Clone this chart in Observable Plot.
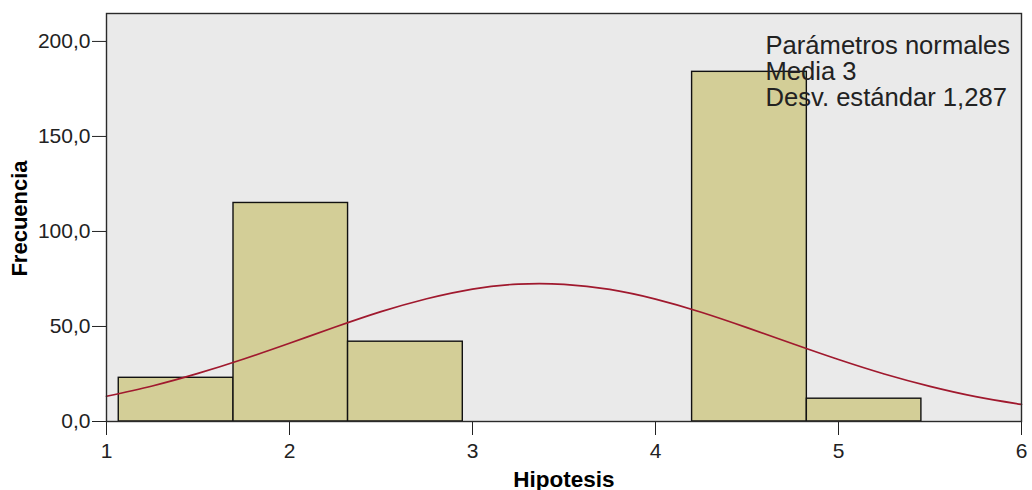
<!DOCTYPE html>
<html>
<head>
<meta charset="utf-8">
<script src="https://cdn.jsdelivr.net/npm/d3@7"></script>
<script src="https://cdn.jsdelivr.net/npm/@observablehq/plot@0.6"></script>
<style>
  html, body { margin: 0; padding: 0; background: #ffffff; }
  #chart { width: 1032px; height: 490px; }
</style>
</head>
<body>
<div id="chart"></div>
<script>
// Histogram bins (Hipotesis) and frequencies
const binStart = [1.067, 1.694, 2.320, 4.200, 4.827];
const binEnd   = [1.694, 2.320, 2.947, 4.827, 5.453];
const freq     = [23, 115, 42, 184, 12];

// Normal curve (x, frequency)
const curveX = [1, 1.25, 1.5, 1.75, 2, 2.25, 2.5, 2.75, 3, 3.25, 3.5, 3.75, 4, 4.25, 4.5, 4.75, 5, 5.25, 5.5, 5.75, 6];
const curveY = [13.3, 18.7, 25.3, 32.9, 41.2, 49.7, 57.8, 64.6, 69.7, 72.3, 72.2, 69.5, 64.4, 57.5, 49.4, 40.9, 32.6, 25.0, 18.5, 13.1, 9.0];

// Axis ticks
const xTicks = [1, 2, 3, 4, 5, 6];
const yTicks = [0, 50, 100, 150, 200];

// Texts
const legendLines = ["Parámetros normales", "Media 3", "Desv. estándar 1,287"];
const xTitle = "Hipotesis";
const yTitle = "Frecuencia";

const bars = freq.map((f, i) => ({x1: binStart[i], x2: binEnd[i], y: f}));
const curve = curveX.map((x, i) => ({x, y: curveY[i]}));

const chart = Plot.plot({
  width: 1032,
  height: 490,
  marginTop: 13,
  marginRight: 11,
  marginBottom: 69,
  marginLeft: 106,
  style: {fontFamily: "'Liberation Sans', Arial, sans-serif", fontSize: "21px", color: "#222", background: "#ffffff", overflow: "visible"},
  x: {domain: [1, 6], ticks: xTicks, tickSize: 14, tickPadding: 8, tickFormat: d => String(d), label: null},
  y: {domain: [0, 214.7], ticks: yTicks, tickSize: 14, tickPadding: 2, tickFormat: d => d.toFixed(1).replace(".", ","), label: null},
  marks: [
    Plot.frame({fill: "#EAEAEA"}),
    Plot.rectY(bars, {x1: "x1", x2: "x2", y: "y", fill: "#D3CE97", stroke: "#111", strokeWidth: 1.4, inset: 0}),
    Plot.line(curve, {x: "x", y: "y", stroke: "#A0192E", strokeWidth: 1.7, curve: "natural"}),
    Plot.frame({stroke: "#2a2a2a", strokeWidth: 1.4}),
    Plot.text([legendLines.join("\n")], {text: d => d, frameAnchor: "top-right", textAnchor: "start", lineAnchor: "top", dx: -256, dy: 22.5, fontSize: 25.6, lineHeight: 1.015, fill: "#222"}),
    Plot.text([xTitle], {text: d => d, frameAnchor: "bottom", textAnchor: "middle", lineAnchor: "middle", dy: 57.8, fontSize: 22.5, fontWeight: "bold", fill: "#000"}),
    Plot.text([yTitle], {text: d => d, frameAnchor: "left", textAnchor: "middle", lineAnchor: "middle", rotate: -90, dx: -86.3, dy: 1, fontSize: 22, fontWeight: "bold", fill: "#000"})
  ]
});
document.getElementById("chart").appendChild(chart);
</script>
</body>
</html>
